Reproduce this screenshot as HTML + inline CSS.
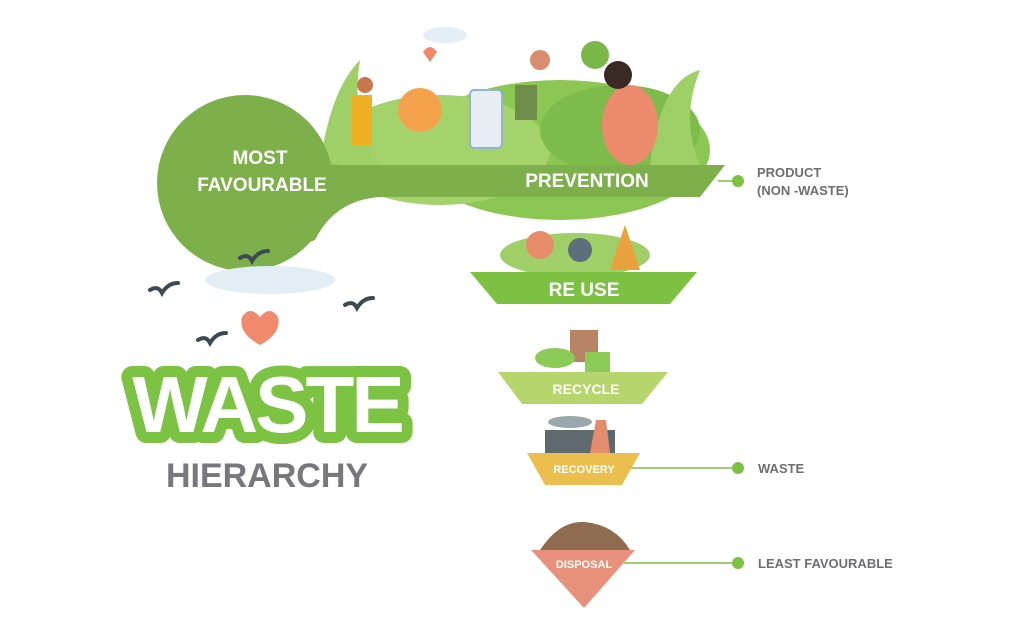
<!DOCTYPE html>
<html><head><meta charset="utf-8"><style>
html,body{margin:0;padding:0;background:#fff;}
svg{display:block;font-family:"Liberation Sans",sans-serif;font-weight:bold;}
</style></head><body>
<svg width="1024" height="637" viewBox="0 0 1024 637" xmlns="http://www.w3.org/2000/svg">
<g>
<ellipse cx="560" cy="150" rx="150" ry="70" fill="#8cc653"/>
<ellipse cx="440" cy="150" rx="110" ry="55" fill="#a5d36b"/>
<ellipse cx="620" cy="130" rx="80" ry="45" fill="#7dbb4b"/>
<path d="M320 165 Q330 90 360 60 Q350 120 380 165Z" fill="#9fd068"/>
<path d="M650 165 Q660 80 700 70 Q680 120 700 165Z" fill="#9fd068"/>
<circle cx="420" cy="110" r="22" fill="#f3a14a"/>
<rect x="470" y="90" width="32" height="58" rx="4" fill="#e6eef4" stroke="#8fb3d1" stroke-width="2"/>
<ellipse cx="630" cy="125" rx="28" ry="40" fill="#ec8b6c"/>
<circle cx="618" cy="75" r="14" fill="#3a2a24"/>
<rect x="352" y="95" width="20" height="50" fill="#f0b023"/>
<circle cx="365" cy="85" r="8" fill="#c9764e"/>
<rect x="515" y="85" width="22" height="35" fill="#6e8c4a"/>
<circle cx="540" cy="60" r="10" fill="#d98c6e"/>
<path d="M423 52 q7-10 14 0 l-7 10z" fill="#ef8b6c"/>
<circle cx="595" cy="55" r="14" fill="#7ab84a"/>
<ellipse cx="445" cy="35" rx="22" ry="8" fill="#e4eef6"/>
</g>
<g fill="#7db04a">
<circle cx="245" cy="183" r="88"/>
<polygon points="245,165 725,165 700,197 245,197"/>
<path d="M300 150 Q320 165 340 165 L300 165Z"/>
<path d="M290 197 L380 197 Q335 200 315 240 L290 250Z"/>
</g>
<ellipse cx="270" cy="280" rx="65" ry="14" fill="#e3edf5"/>
<text x="260" y="164" fill="#fff" font-size="19" text-anchor="middle">MOST</text>
<text x="262" y="191" fill="#fff" font-size="19" text-anchor="middle">FAVOURABLE</text>
<text x="587" y="187" fill="#fff" font-size="19" text-anchor="middle">PREVENTION</text>
<g fill="none" stroke="#3d4a52" stroke-width="4" stroke-linecap="round">
<path d="M150 290 q8-5 12 3 q6-10 16-10"/>
<path d="M240 258 q8-5 12 3 q6-10 16-10"/>
<path d="M345 305 q8-5 12 3 q6-10 16-10"/>
<path d="M198 340 q8-5 12 3 q6-10 16-10"/>
</g>
<path d="M260 345 q-22-12-18-28 q8-12 18 0 q10-12 18 0 q4 16-18 28z" fill="#ef8b6c"/>
<ellipse cx="575" cy="255" rx="75" ry="22" fill="#9fcf66"/>
<circle cx="540" cy="245" r="14" fill="#e88b6a"/>
<path d="M610 270 L625 225 L640 270Z" fill="#e9a13d"/>
<circle cx="580" cy="250" r="12" fill="#5a6f7a"/>
<g stroke="#7dc143" stroke-width="1.5">
<line x1="718" y1="181" x2="738" y2="181"/>
<line x1="630" y1="468" x2="738" y2="468"/>
<line x1="624" y1="563" x2="738" y2="563"/>
</g>
<polygon points="470,272 697,272 670,304 497,304" fill="#7dc143"/>
<text x="584" y="296" fill="#fff" font-size="19" text-anchor="middle">RE USE</text>
<rect x="570" y="330" width="28" height="32" fill="#b98463"/>
<rect x="585" y="352" width="25" height="20" fill="#8ccb57"/>
<ellipse cx="555" cy="358" rx="20" ry="10" fill="#8ccb57"/>
<polygon points="498,372 668,372 642,404 522,404" fill="#b6d56d"/>
<text x="586" y="394" fill="#fff" font-size="14" text-anchor="middle">RECYCLE</text>
<rect x="545" y="430" width="70" height="23" fill="#5f6a6f"/>
<polygon points="590,453 596,420 606,420 610,453" fill="#e38d6d"/>
<ellipse cx="570" cy="422" rx="22" ry="6" fill="#9aa7ab"/>
<polygon points="527,453 640,453 622,485 545,485" fill="#ebbf4e"/>
<text x="584" y="473" fill="#fff" font-size="11" text-anchor="middle">RECOVERY</text>
<path d="M540 550 Q560 520 585 522 Q615 525 630 550Z" fill="#8f6b50"/>
<polygon points="531,550 635,550 584,608" fill="#e8917a"/>
<text x="584" y="568" fill="#fff" font-size="11" text-anchor="middle">DISPOSAL</text>
<g fill="#7dc143"><circle cx="738" cy="181" r="6"/><circle cx="738" cy="468" r="6"/><circle cx="738" cy="563" r="6"/></g>
<g fill="#6e6e73" font-size="13">
<text x="757" y="177">PRODUCT</text>
<text x="757" y="195">(NON -WASTE)</text>
<text x="758" y="473">WASTE</text>
<text x="758" y="568">LEAST FAVOURABLE</text>
</g>
<text x="267" y="432" font-size="80" text-anchor="middle" fill="#fff" stroke="#7cc243" stroke-width="22" stroke-linejoin="round" paint-order="stroke" letter-spacing="-3">WASTE</text>
<text x="267" y="487" font-size="34" text-anchor="middle" fill="#77777c">HIERARCHY</text>
</svg>
</body></html>
